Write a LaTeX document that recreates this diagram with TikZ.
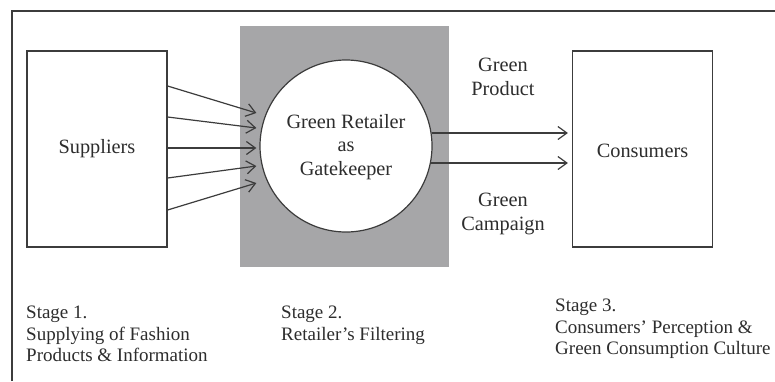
\documentclass[tikz,border=0pt]{standalone}
\usepackage{fontspec}
\setmainfont{Liberation Serif}
\usetikzlibrary{arrows.meta,calc}
\definecolor{inkgray}{RGB}{60,60,60}
\definecolor{textgray}{RGB}{45,45,45}
\definecolor{filtergray}{RGB}{166,166,168}
\tikzset{
  boxnode/.style={draw=inkgray,line width=1.2pt,fill=white,minimum width=140pt,minimum height=196pt,inner sep=0pt},
  flow/.style={draw=inkgray,line width=1.2pt,-{Straight Barb[length=9pt,width=13pt,line width=1.2pt]}},
  lbl/.style={text=textgray,font=\rmfamily\fontsize{20.3}{23.5}\selectfont,align=center,inner sep=0pt},
  stagelbl/.style={text=textgray,font=\rmfamily\fontsize{19}{21.5}\selectfont,align=left,inner sep=0pt,anchor=north west}
}
\begin{document}
\begin{tikzpicture}[x=1pt,y=-1pt]
  \useasboundingbox (0,0) rectangle (775,381);
  \fill[white] (0,0) rectangle (775,381);
  % outer frame: top and left rules
  \draw[inkgray,line width=1.3pt] (12,381) -- (12,11) -- (775,11);
  % stage 2 filtering area
  \fill[filtergray] (240,26) rectangle (449,267);
  % main nodes
  \node[boxnode] (suppliers) at (97,149) {};
  \node[lbl] (supplierstext) at (97,149) {Suppliers};
  \node[circle,draw=inkgray,line width=1.2pt,fill=white,minimum size=172pt,inner sep=0pt] (retailer) at (346,146) {};
  \node[lbl] (retailertext) at (346,147) {Green Retailer\\as\\Gatekeeper};
  \node[boxnode] (consumers) at (642.5,149) {};
  \node[lbl] (consumerstext) at (642.5,151) {Consumers};
  % supply flows into the retailer
  \draw[flow] ($(suppliers.east)+(0,-63)$) -- ($(retailer.west)+(-3,-33)$);
  \draw[flow] ($(suppliers.east)+(0,-32)$) -- ($(retailer.west)+(-3,-18)$);
  \draw[flow] ($(suppliers.east)+(0,-1)$) -- ($(retailer.west)+(-3,2)$);
  \draw[flow] ($(suppliers.east)+(0,29)$) -- ($(retailer.west)+(-3,20)$);
  \draw[flow] ($(suppliers.east)+(0,61)$) -- ($(retailer.west)+(-3,37)$);
  % retailer outputs to consumers
  \draw[flow] ($(retailer.east)+(-1,-13)$) -- ($(consumers.west)+(-4,-16)$);
  \draw[flow] ($(retailer.east)+(-2,17)$) -- ($(consumers.west)+(-4,14)$);
  % flow labels
  \node[lbl] (product) at (503,77) {Green\\Product};
  \node[lbl] (campaign) at (503,214) {Green\\Campaign};
  % stage captions
  \node[stagelbl] (stage1) at (26,306) {Stage 1.\\Supplying of Fashion\\Products \& Information};
  \node[stagelbl] (stage2) at (281,306) {Stage 2.\\Retailer’s Filtering};
  \node[stagelbl] (stage3) at (555,299) {Stage 3.\\Consumers’ Perception \&\\Green Consumption Culture};
\end{tikzpicture}
\end{document}
